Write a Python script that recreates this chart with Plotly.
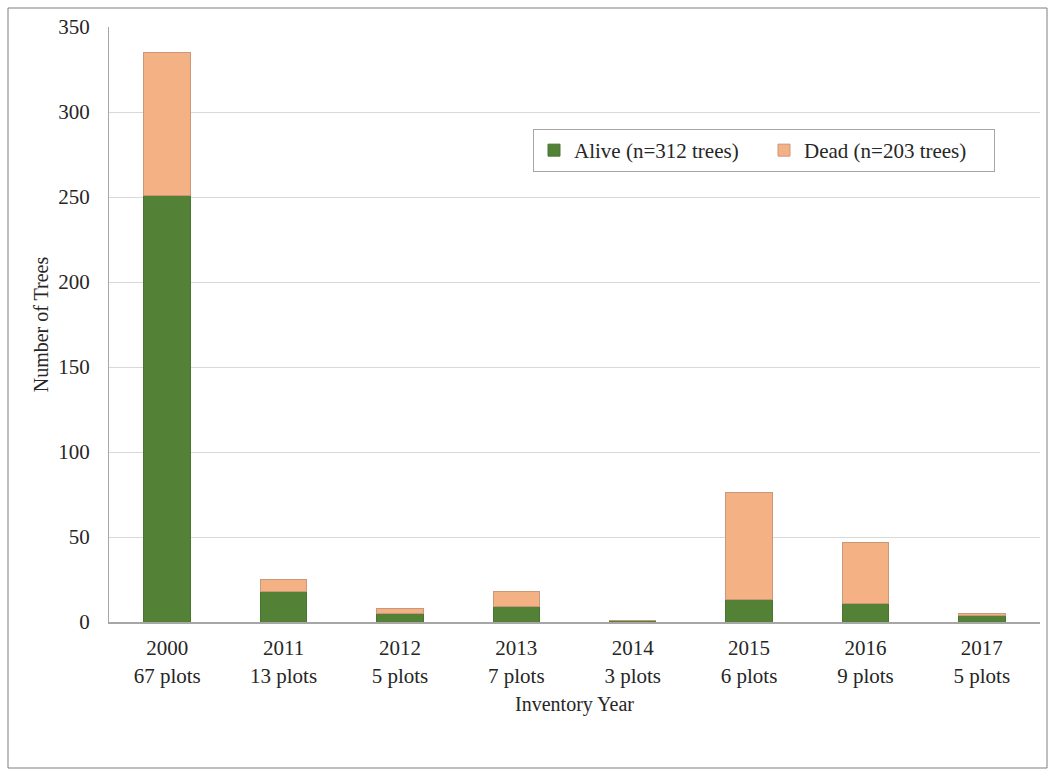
import plotly.graph_objects as go

# Inventory years with number of plots surveyed
years = ["2000", "2011", "2012", "2013", "2014", "2015", "2016", "2017"]
plots = ["67 plots", "13 plots", "5 plots", "7 plots", "3 plots", "6 plots", "9 plots", "5 plots"]
alive = [251, 18, 5, 9, 1, 13, 11, 4]
dead = [84, 7, 3, 9, 0, 63, 36, 1]

categories = [f"{y}<br>{p}" for y, p in zip(years, plots)]

GREEN = "#538135"
ORANGE = "#F4B183"
FONT = "Liberation Serif"
TEXT = "#262626"

fig = go.Figure()
fig.add_trace(go.Bar(
    x=categories, y=alive, name=f"Alive (n={sum(alive)} trees)",
    marker=dict(color=GREEN, line=dict(color="#4a7530", width=1)),
))
fig.add_trace(go.Bar(
    x=categories, y=dead, name=f"Dead (n={sum(dead)} trees)",
    marker=dict(color=ORANGE, line=dict(color="#c9987a", width=1)),
))

# page frame around the whole chart
L, R, T, B = 109, 9, 27, 148
W, H = 1049, 770
pw, ph = W - L - R, H - T - B
def px_x(p):
    return (p - L) / pw
def px_y(p):
    return (H - B - p) / ph

fig.add_shape(type="rect", xref="paper", yref="paper",
              x0=px_x(8), x1=px_x(1047), y0=px_y(768), y1=px_y(8),
              line=dict(color="#7f7f7f", width=1), fillcolor="rgba(0,0,0,0)", layer="below")

fig.update_layout(
    barmode="stack",
    bargap=0.6,
    width=W, height=H,
    margin=dict(l=L, r=R, t=T, b=B, autoexpand=False),
    paper_bgcolor="white",
    plot_bgcolor="white",
    font=dict(family=FONT, size=21, color=TEXT),
    showlegend=True,
    legend=dict(
        orientation="h",
        x=px_x(533), y=px_y(129), xanchor="left", yanchor="top",
        bordercolor="#a6a6a6", borderwidth=1,
        font=dict(family=FONT, size=21, color=TEXT),
        itemwidth=30, traceorder="normal",
        entrywidth=185, entrywidthmode="pixels",
    ),
    xaxis=dict(
        title=dict(text="Inventory Year", font=dict(family=FONT, size=20), standoff=10),
        showline=True, linecolor="#a6a6a6", linewidth=2,
        tickfont=dict(family=FONT, size=21),
        ticks="", showgrid=False, ticklabelstandoff=6,
    ),
    yaxis=dict(
        title=dict(text="Number of Trees", font=dict(family=FONT, size=20), standoff=4),
        range=[0, 350], dtick=50,
        showline=True, linecolor="#a6a6a6", linewidth=1,
        gridcolor="#d9d9d9", gridwidth=1,
        tickfont=dict(family=FONT, size=21),
        ticks="", zeroline=False, ticklabelstandoff=14,
    ),
)

fig.write_html("out.html")
